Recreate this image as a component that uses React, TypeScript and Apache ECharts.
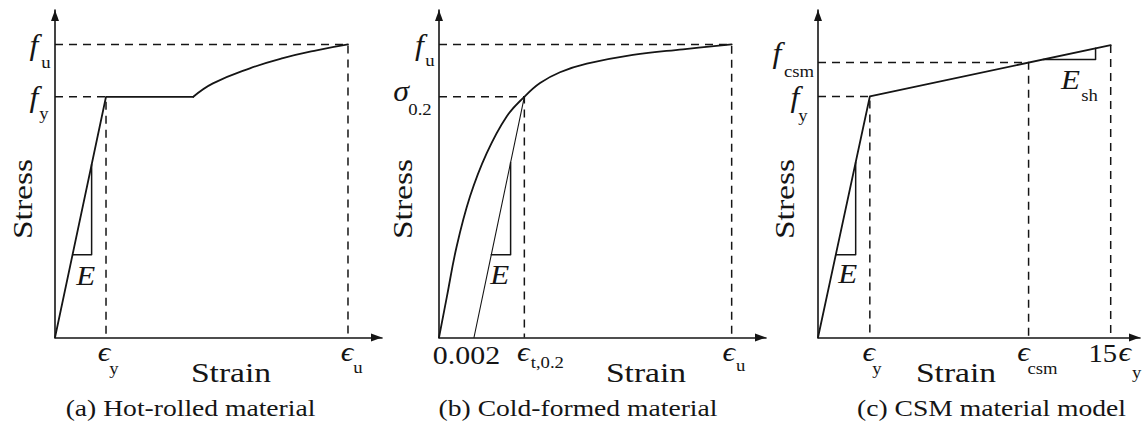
import React, { useEffect, useRef } from "react";
import * as echarts from "echarts";

// ---------- Panel (a): hot-rolled material (schematic units, 0-100) ----------
const hrElasticPlateau = [[0, 0], [15.6, 73.5], [42.3, 73.5]];
const hrHardening = [[42.3, 73.5], [48.3, 77.6], [59.6, 82.2], [69.7, 85.3], [80.0, 87.7], [89.6, 89.5]];
const hrYieldGuide = [[0, 73.5], [15.6, 73.5], [15.6, 0]];
const hrUltGuide = [[0, 89.5], [89.6, 89.5], [89.6, 0]];
const hrSlopeTri = [[5.4, 25.3], [11.2, 25.3], [11.2, 52.8]];

// ---------- Panel (b): cold-formed material ----------
const cfCurve = [
  [0, 0], [2.4, 12.4], [5.4, 27.8], [9.5, 43.1], [14.6, 56.3], [20.7, 67.5], [26.1, 73.5],
  [30.9, 77.7], [37.0, 81.0], [45.2, 83.6], [59.3, 86.3], [74.6, 88.0], [89.5, 89.5],
];
const cfOffsetLine = [[10.7, 0], [26.1, 73.5]];
const cfProofGuide = [[0, 73.5], [26.1, 73.5], [26.1, 0]];
const cfUltGuide = [[0, 89.5], [89.5, 89.5], [89.5, 0]];
const cfSlopeTri = [[16.0, 25.3], [21.9, 25.3], [21.9, 53.4]];

// ---------- Panel (c): CSM material model ----------
const csmLine = [[0, 0], [16.1, 73.6], [90.9, 89.3]];
const csmYieldGuide = [[0, 73.6], [16.1, 73.6], [16.1, 0]];
const csmCsmGuide = [[0, 84.0], [65.4, 84.0], [65.4, 0]];
const csmLimitGuide = [[90.9, 89.3], [90.9, 0]];
const csmSlopeTri = [[5.5, 25.3], [11.7, 25.3], [11.7, 53.5]];
const csmShTri = [[69.9, 84.9], [86.2, 84.9], [86.2, 88.3]];

// ---------- Tick-style labels: [value, symbol, subscript] ----------
const hrXTicks: [number, string, string][] = [[15.6, "ϵ", "y"], [89.6, "ϵ", "u"]];
const hrYTicks: [number, string, string][] = [[89.5, "f", "u"], [73.5, "f", "y"]];
const cfXTicks: [number, string, string][] = [[26.1, "ϵ", "t,0.2"], [89.5, "ϵ", "u"]];
const cfYTicks: [number, string, string][] = [[89.5, "f", "u"], [73.5, "σ", "0.2"]];
const cfOffsetTick = [10.7, "0.002"] as const;
const csmXTicks: [number, string, string][] = [[16.1, "ϵ", "y"], [65.4, "ϵ", "csm"], [90.9, "15ϵ", "y"]];
const csmYTicks: [number, string, string][] = [[84.0, "f", "csm"], [73.6, "f", "y"]];

const captions = ["(a) Hot-rolled material", "(b) Cold-formed material", "(c) CSM material model"];
const axisTitles = ["Strain", "Stress"];

const INK = "#151515";
const FONT = "Liberation Serif";

const grids = [
  { left: 55, top: 10, width: 327, height: 327.5 },
  { left: 439, top: 10, width: 327, height: 327.5 },
  { left: 818, top: 10, width: 322, height: 327.5 },
];

function axisCommon() {
  return {
    type: "value" as const,
    min: 0,
    max: 100,
    axisLine: {
      show: true,
      onZero: false,
      symbol: ["none", "triangle"],
      symbolSize: [8, 11],
      symbolOffset: [0, -5.5],
      lineStyle: { color: INK, width: 1.6 },
    },
    axisTick: { show: false },
    axisLabel: { show: false },
    splitLine: { show: false },
  };
}

function solid(data: number[][], g: number, width = 1.8, smooth: number | boolean = false) {
  return {
    type: "line" as const,
    data,
    xAxisIndex: g,
    yAxisIndex: g,
    showSymbol: false,
    symbol: "none",
    smooth,
    silent: true,
    lineStyle: { color: INK, width, cap: "round", join: "round" },
    z: 3,
  };
}
function dashed(data: number[][], g: number) {
  return {
    type: "line" as const,
    data,
    xAxisIndex: g,
    yAxisIndex: g,
    showSymbol: false,
    symbol: "none",
    silent: true,
    lineStyle: { color: INK, width: 1.5, type: [8, 6] },
    z: 2,
  };
}

function txt(x: number, y: number, text: string, size: number, italic = false, sx = 1.15, rot = 0) {
  return {
    type: "text",
    x,
    y,
    rotation: rot,
    scaleX: sx,
    z: 100,
    silent: true,
    style: {
      text,
      fontSize: size,
      fontFamily: FONT,
      fontStyle: italic ? "italic" : "normal",
      fill: INK,
      align: "center",
      verticalAlign: "middle",
    },
  };
}

export default function App() {
  const ref = useRef<HTMLDivElement>(null);
  useEffect(() => {
    if (!ref.current) return;
    const chart = echarts.init(ref.current, null, { renderer: "svg" });
    chart.setOption({
      animation: false,
      backgroundColor: "#fff",
      textStyle: { fontFamily: FONT },
      grid: grids.map((g) => ({ ...g, containLabel: false })),
      xAxis: grids.map((_, i) => ({ ...axisCommon(), gridIndex: i })),
      yAxis: grids.map((_, i) => ({ ...axisCommon(), gridIndex: i })),
      series: [
        solid(hrElasticPlateau, 0),
        solid(hrHardening, 0, 1.8, 0.45),
        dashed(hrYieldGuide, 0),
        dashed(hrUltGuide, 0),
        solid(hrSlopeTri, 0, 1.5),
        solid(cfCurve, 1, 1.8, 0.4),
        solid(cfOffsetLine, 1, 1.1),
        dashed(cfProofGuide, 1),
        dashed(cfUltGuide, 1),
        solid(cfSlopeTri, 1, 1.5),
        solid(csmLine, 2),
        dashed(csmYieldGuide, 2),
        dashed(csmCsmGuide, 2),
        dashed(csmLimitGuide, 2),
        solid(csmSlopeTri, 2, 1.5),
        solid(csmShTri, 2, 1.5),
      ],
    });

    const P = (g: number, x: number, y: number) =>
      chart.convertToPixel({ gridIndex: g } as any, [x, y]) as number[];
    const G: any[] = [];

    const yLab = (g: number, ticks: [number, string, string][], offs: number[][]) => {
      ticks.forEach(([v, s, sub], i) => {
        const [px, py] = P(g, 0, v);
        const o = offs[i];
        G.push(txt(px + o[0], py + o[1], s, 29, true, 1.1));
        G.push(txt(px + o[2], py + o[3], sub, 17, false, 1.1));
      });
    };
    const xLab = (g: number, ticks: [number, string, string][], offs: number[][]) => {
      ticks.forEach(([v, s, sub], i) => {
        const [px, py] = P(g, v, 0);
        const o = offs[i];
        if (s === "15ϵ") {
          G.push(txt(px - 8, py + 16, "15", 26, false, 1.1));
          G.push(txt(px + 14, py + 14, "ϵ", 27, true, 1.15));
        } else {
          G.push(txt(px + o[0], py + o[1], s, 27, true, 1.15));
        }
        G.push(txt(px + o[2], py + o[3], sub, 17, false, 1.1));
      });
    };

    yLab(0, hrYTicks, [[-21, 1, -9, 18], [-21, 1, -11, 17]]);
    xLab(0, hrXTicks, [[-2, 14, 8, 31], [-1, 14, 10, 30]]);
    yLab(1, cfYTicks, [[-19.5, 1, -9, 16], [-38, -5, -19, 13]]);
    xLab(1, cfXTicks, [[-1, 14, 23, 25], [-3, 14, 9, 28]]);
    {
      const [px, py] = P(1, cfOffsetTick[0], 0);
      G.push(txt(px - 7.5, py + 18, cfOffsetTick[1], 26, false, 1.15));
    }
    yLab(2, csmYTicks, [[-41, -9, -19, 9], [-23, 1, -15, 19]]);
    xLab(2, csmXTicks, [[-1, 14, 7, 31], [-5, 14, 14, 31], [0, 14, 26, 35]]);

    const eAt = (g: number, pt: number[], dx: number, dy: number) => {
      const [px, py] = P(g, pt[0], pt[1]);
      G.push(txt(px + dx, py + dy, "E", 27, true, 1.15));
    };
    eAt(0, hrSlopeTri[1], -6, 21);
    eAt(1, cfSlopeTri[1], -11, 20);
    eAt(2, csmSlopeTri[1], -8, 19);
    {
      const [px, py] = P(2, csmShTri[1][0], csmShTri[1][1]);
      G.push(txt(px - 25, py + 20, "E", 27, true, 1.15));
      G.push(txt(px - 6, py + 36, "sh", 17, false, 1.1));
    }

    const strainX = [176, 207, 138];
    const stressX = [-32.5, -37, -34];
    const capX = [135.5, 139, 173.5];
    grids.forEach((g, i) => {
      const bottom = g.top + g.height;
      G.push(txt(g.left + strainX[i], bottom + 35, axisTitles[0], 28, false, 1.2));
      G.push(txt(g.left + stressX[i], 199, axisTitles[1], 28, false, 1.2, Math.PI / 2));
      G.push(txt(g.left + capX[i], 408, captions[i], 23, false, 1.2));
    });

    chart.setOption({ graphic: G });
    return () => chart.dispose();
  }, []);
  return (
    <div
      ref={ref}
      style={{ position: "absolute", left: 0, top: 0, width: 1142, height: 421, background: "#fff" }}
    />
  );
}
